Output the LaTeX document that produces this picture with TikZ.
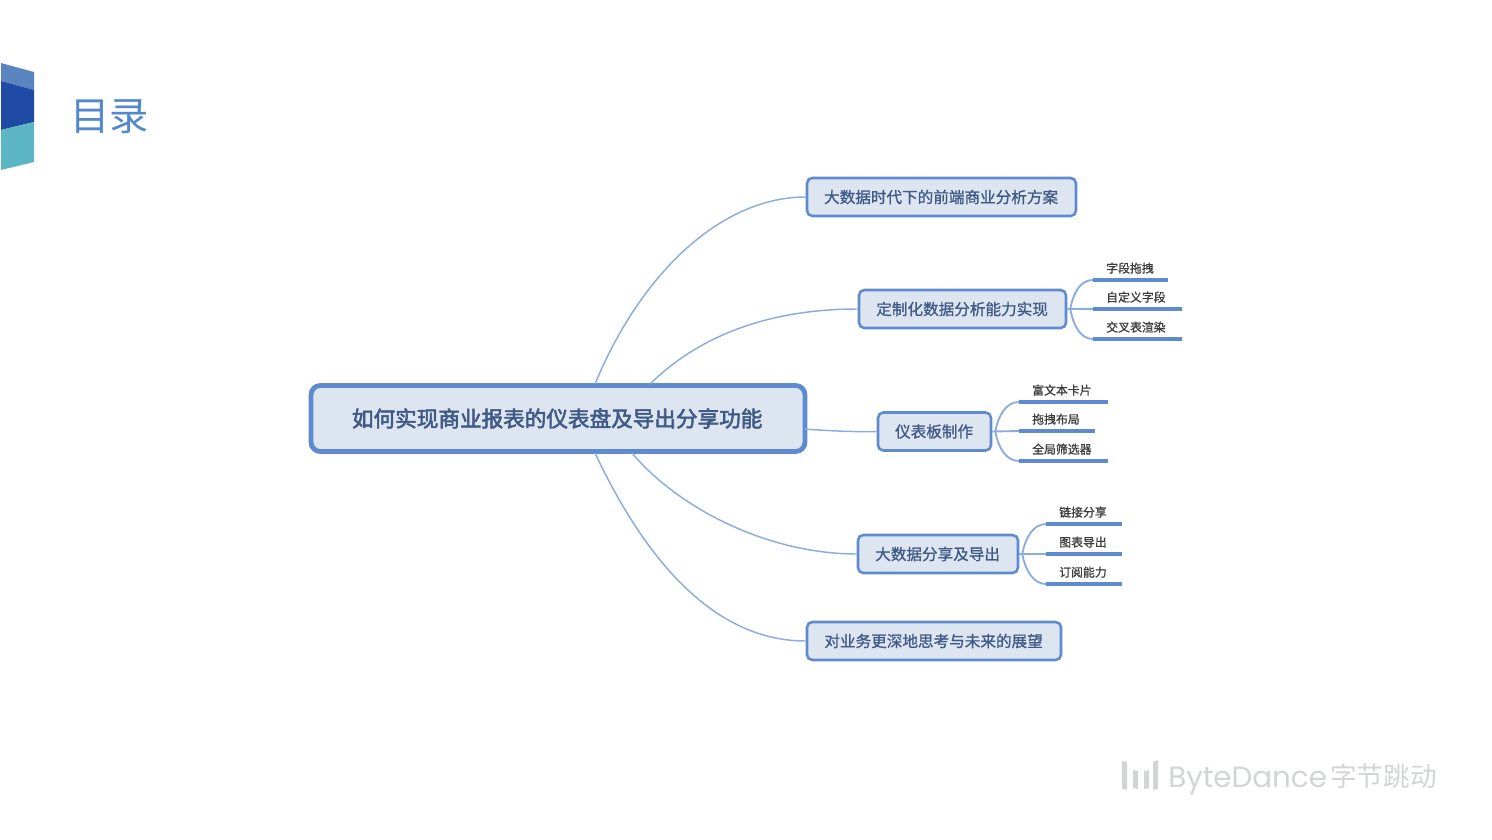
\documentclass[tikz,border=0pt]{standalone}
\usepackage{fontspec}
\setmainfont{Noto Sans CJK SC}
\newfontfamily\cjkbold[FakeBold=2.5]{Noto Sans CJK SC}
\newfontfamily\cjkmed[FakeBold=1]{Noto Sans CJK SC}
\newfontfamily\latinlogo{Poppins}
\definecolor{linkc}{HTML}{8AADDE}
\definecolor{edgec}{HTML}{5E8AD0}
\definecolor{fillc}{HTML}{DDE5F1}
\definecolor{textc}{HTML}{3F5A85}
\definecolor{leafc}{HTML}{3C3C3C}
\definecolor{titlec}{HTML}{5388CC}
\definecolor{logoc}{HTML}{D2D4D6}
\definecolor{ribbona}{HTML}{5B85C0}
\definecolor{ribbonb}{HTML}{1F4BA5}
\definecolor{ribbonc}{HTML}{5CB5C2}
\tikzset{
  x=0.75pt, y=-0.75pt,
  rootbox/.style={draw=edgec, fill=fillc, line width=3.6pt, rounded corners=7pt,
    inner sep=0pt, align=center, text=textc, font=\cjkbold\fontsize{16.2pt}{18pt}\selectfont,
    minimum width=#1*0.75pt, minimum height=49.5pt},
  topicbox/.style={draw=edgec, fill=fillc, line width=1.9pt, rounded corners=4pt,
    inner sep=0pt, align=center, text=textc, font=\cjkmed\fontsize{11.7pt}{14pt}\selectfont,
    minimum width=#1*0.75pt, minimum height=28.5pt},
  leafbox/.style={anchor=south west, inner sep=0pt, text width=#1*0.75pt, align=left,
    text=leafc, font=\cjkmed\fontsize{8.9pt}{10pt}\selectfont, text height=8.5pt, text depth=5.3pt},
  linkline/.style={draw=linkc, line width=1.1pt},
  branchline/.style={draw=linkc, line width=1.4pt},
  rule/.style={draw=edgec, line width=2.4pt},
  logotext/.style={inner sep=0pt, text=logoc},
}
\begin{document}
\begin{tikzpicture}
\useasboundingbox (0,0) rectangle (1492,839);
% corner ribbon
\fill[ribbona] (1,63) -- (34,72) -- (34,90) -- (1,81) -- cycle;
\fill[ribbonb] (1,81) -- (34,90) -- (34,122) -- (1,130) -- cycle;
\fill[ribbonc] (1,130) -- (34,122) -- (34,162) -- (1,170) -- cycle;
\node[inner sep=0pt, text=titlec, font=\fontsize{29.5pt}{31pt}\selectfont] (title) at (109.5,117) {目录};

% nodes
\node[rootbox=494] (root) at (558,418.5) {\hspace*{-1.2pt}\raisebox{1.4pt}{如何实现商业报表的仪表盘及导出分享功能}};
\node[topicbox=269] (a) at (941.5,197) {\hspace*{-0.6pt}\raisebox{-0.5pt}{大数据时代下的前端商业分析方案}};
\node[topicbox=207] (b) at (962.5,309) {\hspace*{-0.6pt}\raisebox{-0.5pt}{定制化数据分析能力实现}};
\node[topicbox=113] (c) at (934.5,431.5) {\hspace*{-0.6pt}\raisebox{-0.5pt}{仪表板制作}};
\node[topicbox=160] (d) at (938,554) {\hspace*{-0.6pt}\raisebox{-0.5pt}{大数据分享及导出}};
\node[topicbox=254] (e) at (934,641) {\hspace*{-0.6pt}\raisebox{-0.5pt}{对业务更深地思考与未来的展望}};

\node[leafbox=74] (b1) at (1093,280) {\hspace*{9.75pt}字段拖拽};
\node[leafbox=88] (b2) at (1093,309) {\hspace*{9.75pt}自定义字段};
\node[leafbox=88] (b3) at (1093,339) {\hspace*{9.75pt}交叉表渲染};
\node[leafbox=88] (c1) at (1019,402) {\hspace*{9.75pt}富文本卡片};
\node[leafbox=75] (c2) at (1019,431) {\hspace*{9.75pt}拖拽布局};
\node[leafbox=88] (c3) at (1019,461) {\hspace*{9.75pt}全局筛选器};
\node[leafbox=75] (d1) at (1046,524) {\hspace*{9.75pt}链接分享};
\node[leafbox=75] (d2) at (1046,554) {\hspace*{9.75pt}图表导出};
\node[leafbox=75] (d3) at (1046,584) {\hspace*{9.75pt}订阅能力};

% root links
\coordinate (r1) at (595,384);
\coordinate (r2) at (650,384);
\coordinate (r3) at (805,429);
\coordinate (r4) at (632,453);
\coordinate (r5) at (595,453);
\path[linkline] (r1) .. controls (640,275) and (720,197) .. (a.west);
\path[linkline] (r2) .. controls (700,335) and (770,309) .. (b.west);
\path[linkline] (r3) .. controls (830,431) and (855,432) .. (c.west);
\path[linkline] (r4) .. controls (680,510) and (770,554) .. (d.west);
\path[linkline] (r5) .. controls (650,570) and (720,641) .. (e.west);

% branch links
\foreach \p/\u/\m/\l in {b/b1/b2/b3, c/c1/c2/c3, d/d1/d2/d3}{
  \path[branchline] (\p.east) -- (\m.south west);
  \path[branchline] (\p.east) ++(3,0) .. controls +(3,-16) and +(-13,0) .. (\u.south west);
  \path[branchline] (\p.east) ++(3,0) .. controls +(3,16) and +(-13,0) .. (\l.south west);
}
% leaf underlines
\foreach \n in {b1,b2,b3,c1,c2,c3,d1,d2,d3}{
  \path[rule] (\n.south west) -- (\n.south east);
}

% logo
\fill[logoc] (1122,761) -- (1127,762) -- (1127,790) -- (1122,789) -- cycle;
\fill[logoc] (1133,770) -- (1138,771) -- (1138,789) -- (1133,788) -- cycle;
\fill[logoc] (1144,771) -- (1149,770) -- (1149,788) -- (1144,789) -- cycle;
\fill[logoc] (1153,762) -- (1158,760) -- (1158,789) -- (1153,790) -- cycle;
\node[logotext, anchor=base west, font=\latinlogo\fontsize{22pt}{24pt}\selectfont] (logo) at (1168,787) {ByteDance};
\node[logotext, anchor=base west, font=\fontsize{20pt}{22pt}\selectfont] (logocn) at (1330,786) {字节跳动};
\end{tikzpicture}
\end{document}
